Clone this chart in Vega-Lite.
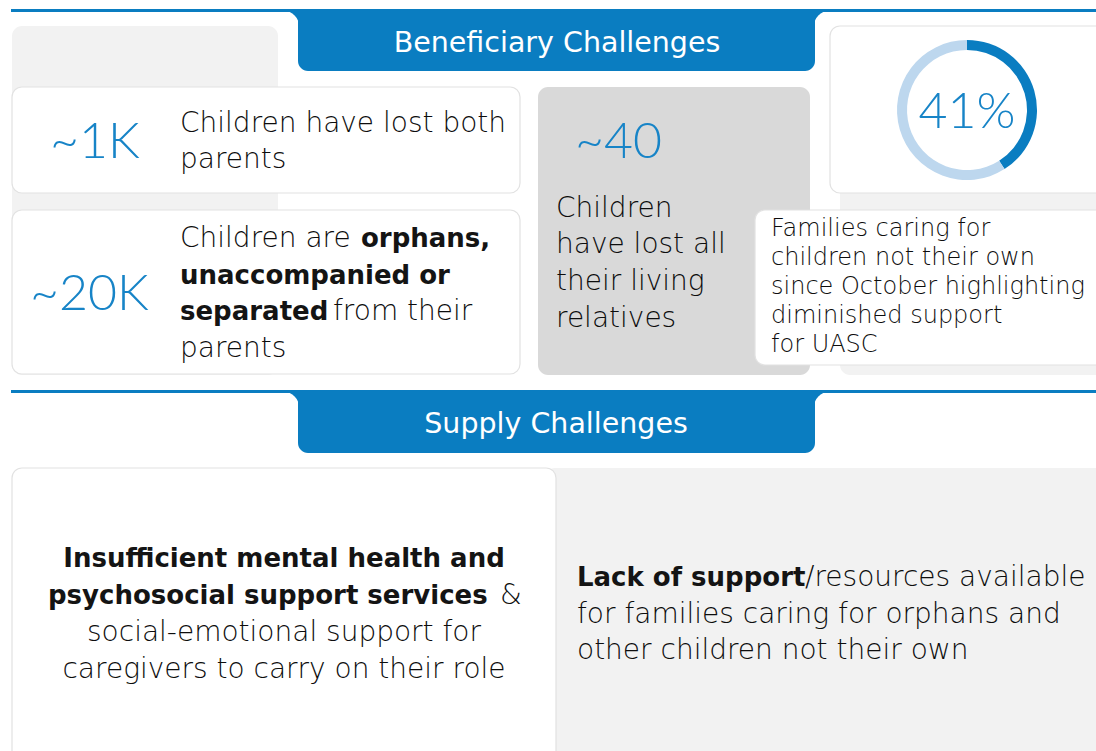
{
  "$schema": "https://vega.github.io/schema/vega-lite/v6.json",
  "width": 1096,
  "height": 751,
  "autosize": {"type": "fit", "contains": "padding"},
  "padding": 0,
  "background": "white",
  "config": {"view": {"stroke": null}},
  "datasets": {
    "panels": [
      {"x": 12, "x2": 278, "y": 26, "y2": 375, "kind": "panel"},
      {"x": 840, "x2": 1120, "y": 26, "y2": 375, "kind": "panel"},
      {"x": 538, "x2": 810, "y": 87, "y2": 375, "kind": "dark"},
      {"x": 545, "x2": 1120, "y": 468, "y2": 780, "kind": "panel"}
    ],
    "flareFill": [
      {"x": 284, "x2": 299, "y": 11, "y2": 26, "kind": "blue"},
      {"x": 814, "x2": 829, "y": 11, "y2": 26, "kind": "blue"},
      {"x": 284, "x2": 299, "y": 392, "y2": 407, "kind": "blue"},
      {"x": 814, "x2": 829, "y": 392, "y2": 407, "kind": "blue"}
    ],
    "flareCut": [
      {"x": 284, "y": 26, "kind": "card"},
      {"x": 829, "y": 26, "kind": "card"},
      {"x": 284, "y": 407, "kind": "card"},
      {"x": 829, "y": 407, "kind": "card"}
    ],
    "cards": [
      {"x": 12, "x2": 520, "y": 87, "y2": 193, "kind": "card"},
      {"x": 12, "x2": 520, "y": 210, "y2": 374, "kind": "card"},
      {"x": 830, "x2": 1120, "y": 26, "y2": 193, "kind": "card"},
      {"x": 755, "x2": 1120, "y": 210, "y2": 365, "kind": "card"},
      {"x": 12, "x2": 556, "y": 468, "y2": 780, "kind": "card"}
    ],
    "tabs": [
      {"x": 298, "x2": 815, "y": 9, "y2": 71, "kind": "blue"},
      {"x": 298, "x2": 815, "y": 390, "y2": 453, "kind": "blue"}
    ],
    "lines": [
      {"x": 11, "x2": 1096, "y": 9, "y2": 12, "kind": "blue"},
      {"x": 11, "x2": 1096, "y": 390, "y2": 393, "kind": "blue"}
    ],
    "ring": [
      {"x": 967, "y": 110, "kind": "filled", "value": 41, "k": 1},
      {"x": 967, "y": 110, "kind": "rest", "value": 59, "k": 2}
    ],
    "numbers": [
      {"x": 50, "y": 158, "text": "~1K", "kind": "number"},
      {"x": 30, "y": 310, "text": "~20K", "kind": "number"},
      {"x": 575, "y": 158, "text": "~40", "kind": "number"}
    ],
    "numbersCenter": [
      {"x": 967, "y": 128, "text": "41%", "kind": "number"}
    ],
    "textLight": [
      {"x": 180, "y": 132, "text": "Children have lost both", "kind": "body"},
      {"x": 180, "y": 168, "text": "parents", "kind": "body"},
      {"x": 180, "y": 247, "text": "Children are", "kind": "body"},
      {"x": 333, "y": 320, "text": "from their", "kind": "body"},
      {"x": 180, "y": 357, "text": "parents", "kind": "body"},
      {"x": 556, "y": 217, "text": "Children", "kind": "body"},
      {"x": 556, "y": 253, "text": "have lost all", "kind": "body"},
      {"x": 556, "y": 290, "text": "their living", "kind": "body"},
      {"x": 556, "y": 327, "text": "relatives", "kind": "body"},
      {"x": 771, "y": 236, "text": "Families caring for", "kind": "note"},
      {"x": 771, "y": 265, "text": "children not their own", "kind": "note"},
      {"x": 771, "y": 294, "text": "since October highlighting", "kind": "note"},
      {"x": 771, "y": 323, "text": "diminished support", "kind": "note"},
      {"x": 771, "y": 352, "text": "for UASC", "kind": "note"},
      {"x": 500, "y": 604, "text": "&", "kind": "body"},
      {"x": 805, "y": 586, "text": "/resources available", "kind": "body"},
      {"x": 577, "y": 623, "text": "for families caring for orphans and", "kind": "body"},
      {"x": 577, "y": 659, "text": "other children not their own", "kind": "body"}
    ],
    "textBold": [
      {"x": 361, "y": 247, "text": "orphans,", "kind": "bold"},
      {"x": 180, "y": 284, "text": "unaccompanied or", "kind": "bold"},
      {"x": 180, "y": 320, "text": "separated", "kind": "bold"},
      {"x": 48, "y": 604, "text": "psychosocial support services", "kind": "bold"},
      {"x": 577, "y": 586, "text": "Lack of support", "kind": "bold"}
    ],
    "textLightCenter": [
      {"x": 284, "y": 641, "text": "social-emotional support for", "kind": "body"},
      {"x": 284, "y": 678, "text": "caregivers to carry on their role", "kind": "body"}
    ],
    "textBoldCenter": [
      {"x": 284, "y": 567, "text": "Insufficient mental health and", "kind": "bold"}
    ],
    "titles": [
      {"x": 557, "y": 52, "text": "Beneficiary Challenges", "kind": "title"},
      {"x": 556, "y": 433, "text": "Supply Challenges", "kind": "title"}
    ]
  },
  "encoding": {
    "x": {"field": "x", "type": "quantitative", "axis": null, "scale": {"domain": [0, 1096], "nice": false, "zero": false}},
    "y": {"field": "y", "type": "quantitative", "axis": null, "scale": {"domain": [0, 751], "nice": false, "zero": false, "reverse": true}},
    "color": {
      "field": "kind",
      "type": "nominal",
      "legend": null,
      "scale": {
        "domain": ["panel", "dark", "card", "blue", "filled", "rest", "number", "body", "note", "bold", "title"],
        "range": ["#f2f2f2", "#d9d9d9", "#ffffff", "#0a7dc1", "#0a7dc1", "#bdd7ee", "#1784c7", "#0d0d0d", "#0d0d0d", "#141414", "#ffffff"]
      }
    },
    "size": {"field": "kind", "type": "ordinal", "legend": null, "scale": {"type": "ordinal", "domain": ["number", "body", "note", "bold", "title"], "range": [50, 28, 24, 26, 28.5]}}
  },
  "layer": [
    {
      "data": {"name": "flareFill"},
      "mark": {"type": "rect", "clip": true},
      "encoding": {"x2": {"field": "x2"}, "y2": {"field": "y2"}, "size": {"value": 1}}
    },
    {
      "data": {"name": "flareCut"},
      "mark": {"type": "point", "shape": "circle", "filled": true, "opacity": 1, "clip": true},
      "encoding": {"size": {"value": 900}}
    },
    {
      "data": {"name": "panels"},
      "mark": {"type": "rect", "cornerRadius": 10, "clip": true},
      "encoding": {"x2": {"field": "x2"}, "y2": {"field": "y2"}, "size": {"value": 1}}
    },
    {
      "data": {"name": "cards"},
      "mark": {"type": "rect", "cornerRadius": 10, "clip": true, "stroke": "#e2e2e2", "strokeWidth": 1.2},
      "encoding": {"x2": {"field": "x2"}, "y2": {"field": "y2"}, "size": {"value": 1}}
    },
    {
      "data": {"name": "tabs"},
      "mark": {"type": "rect", "cornerRadiusBottomLeft": 10, "cornerRadiusBottomRight": 10, "clip": true},
      "encoding": {"x2": {"field": "x2"}, "y2": {"field": "y2"}, "size": {"value": 1}}
    },
    {
      "data": {"name": "lines"},
      "mark": {"type": "rect", "clip": true},
      "encoding": {"x2": {"field": "x2"}, "y2": {"field": "y2"}, "size": {"value": 1}}
    },
    {
      "data": {"name": "ring"},
      "mark": {"type": "arc", "outerRadius": 70, "innerRadius": 60},
      "encoding": {
        "theta": {"field": "value", "type": "quantitative", "stack": true},
        "order": {"field": "k", "type": "quantitative"},
        "size": {"value": 1}
      }
    },
    {
      "data": {"name": "numbers"},
      "mark": {"type": "text", "align": "left", "baseline": "alphabetic", "font": "Lato", "fontWeight": 300},
      "encoding": {"text": {"field": "text", "type": "nominal"}}
    },
    {
      "data": {"name": "numbersCenter"},
      "mark": {"type": "text", "align": "center", "baseline": "alphabetic", "font": "Lato", "fontWeight": 300},
      "encoding": {"text": {"field": "text", "type": "nominal"}}
    },
    {
      "data": {"name": "textLight"},
      "mark": {"type": "text", "align": "left", "baseline": "alphabetic", "font": "DejaVu Sans", "fontWeight": 200},
      "encoding": {"text": {"field": "text", "type": "nominal"}}
    },
    {
      "data": {"name": "textBold"},
      "mark": {"type": "text", "align": "left", "baseline": "alphabetic", "font": "DejaVu Sans", "fontWeight": 700},
      "encoding": {"text": {"field": "text", "type": "nominal"}}
    },
    {
      "data": {"name": "textLightCenter"},
      "mark": {"type": "text", "align": "center", "baseline": "alphabetic", "font": "DejaVu Sans", "fontWeight": 200},
      "encoding": {"text": {"field": "text", "type": "nominal"}}
    },
    {
      "data": {"name": "textBoldCenter"},
      "mark": {"type": "text", "align": "center", "baseline": "alphabetic", "font": "DejaVu Sans", "fontWeight": 700},
      "encoding": {"text": {"field": "text", "type": "nominal"}}
    },
    {
      "data": {"name": "titles"},
      "mark": {"type": "text", "align": "center", "baseline": "alphabetic", "font": "DejaVu Sans", "fontWeight": 400},
      "encoding": {"text": {"field": "text", "type": "nominal"}}
    }
  ]
}
